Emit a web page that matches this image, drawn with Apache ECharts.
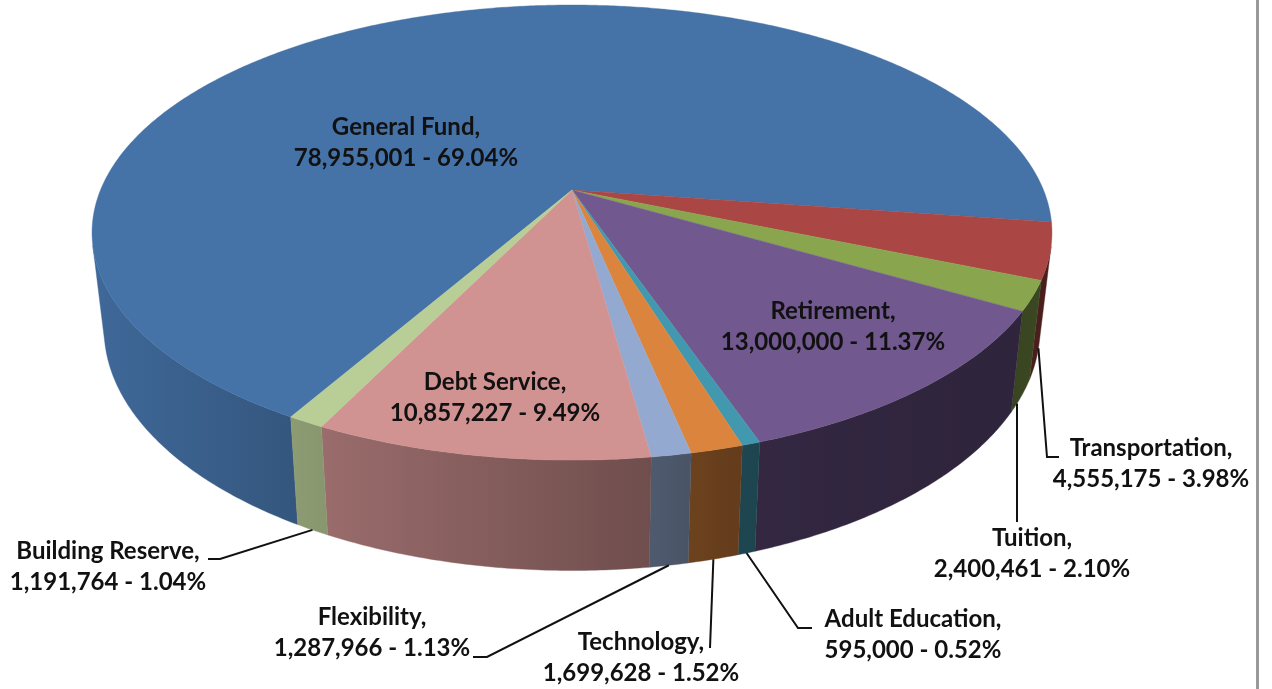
<!DOCTYPE html>
<html>
<head>
<meta charset="utf-8">
<style>
    html, body { margin: 0; padding: 0; background: #fff; }
    #main { width: 1272px; height: 689px; }
</style>
<script src="https://cdn.jsdelivr.net/npm/echarts@6/dist/echarts.min.js"></script>
</head>
<body>
<div id="main"></div>
<script>
const categories = ['General Fund', 'Transportation', 'Tuition', 'Retirement', 'Adult Education', 'Technology', 'Flexibility', 'Debt Service', 'Building Reserve']
const amounts = [78955001, 4555175, 2400461, 13000000, 595000, 1699628, 1287966, 10857227, 1191764]
const percents = ['69.04', '3.98', '2.10', '11.37', '0.52', '1.52', '1.13', '9.49', '1.04']

const colors = ['#4572A7', '#AA4643', '#89A54E', '#71588F', '#4198AF', '#DB843D', '#93A9CF', '#D19392', '#B9CD96']

// where the text sits and how the leader runs after it leaves the slice
const labelLayout = [
    { x: 406, y: 143 },
    { x: 1151, y: 464, leader: [[1047, 457], [1059, 457]] },
    { x: 1032, y: 554, leader: [[1017, 522]], leaderAt: 0.73 },
    { x: 833, y: 327 },
    { x: 913, y: 635, leader: [[798, 628], [812, 628]] },
    { x: 641, y: 658, leader: [[710, 648]] },
    { x: 372, y: 633, leader: [[487, 657], [473, 657]] },
    { x: 495, y: 398 },
    { x: 108, y: 567, leader: [[220, 559], [208, 559]] }
]

// the disc is a circle seen in perspective, so the apex is not the ellipse centre
const apexX = 572
const apexY = 190
const radiusX = 471.5
const radiusY = 219.6
const tilt = 0.187
const startAngle = 120

const total = amounts.reduce((a, b) => a + b, 0)
const sliceStart = []
let running = startAngle
amounts.forEach((v) => {
    sliceStart.push(running)
    running += v / total * 360
})
sliceStart.push(running)

function topPoint (deg) {
    const t = deg * Math.PI / 180
    const w = 1 - tilt * Math.sin(t)
    return [apexX + radiusX * Math.cos(t) / w, apexY + radiusY * Math.sin(t) / w]
}

// lower rim of the wall
function bottomPoint (deg) {
    const p = topPoint(deg)
    return [apexX + 0.975 * (p[0] - apexX), 81.4 + 1.063 * p[1]]
}

function arcAngles (from, to, step) {
    const list = []
    for (let a = from; a < to; a += step) {
        list.push(a)
    }
    list.push(to)
    return list
}

// wall gets darker going from left to right
const shadeLeft = 90
const shadeRight = 1060
const shadeStops = [[90, 0.92], [300, 0.75], [650, 0.53], [730, 0.46], [1000, 0.41], [1060, 0.44]]

function shaded (hex, f) {
    const n = parseInt(hex.slice(1), 16)
    const r = Math.round((n >> 16 & 255) * f)
    const g = Math.round((n >> 8 & 255) * f)
    const b = Math.round((n & 255) * f)
    return 'rgb(' + r + ',' + g + ',' + b + ')'
}

function wallFill (hex) {
    const stops = shadeStops.map((s) => ({
        offset: (s[0] - shadeLeft) / (shadeRight - shadeLeft),
        color: shaded(hex, s[1])
    }))
    return new echarts.graphic.LinearGradient(shadeLeft, 0, shadeRight, 0, stops, true)
}

function renderWall (params) {
    const i = params.dataIndex
    const angles = arcAngles(sliceStart[i], sliceStart[i + 1], 0.5)
    const upper = []
    const lower = []
    for (let k = 0; k < angles.length - 1; k++) {
        const a = topPoint(angles[k])
        const b = topPoint(angles[k + 1])
        const d = bottomPoint(angles[k])
        // skip the strips that face away from the viewer
        const area = (b[0] - a[0]) * (d[1] - a[1]) - (b[1] - a[1]) * (d[0] - a[0])
        if (area >= 0) continue
        if (!upper.length) {
            upper.push(a)
            lower.push(d)
        }
        upper.push(b)
        lower.push(bottomPoint(angles[k + 1]))
    }
    if (!upper.length) return null
    const fill = wallFill(colors[i])
    return {
        type: 'polygon',
        shape: { points: upper.concat(lower.reverse()) },
        style: { fill: fill, stroke: fill, lineWidth: 0.4 }
    }
}

function renderTop (params) {
    const i = params.dataIndex
    const points = [[apexX, apexY]]
    arcAngles(sliceStart[i], sliceStart[i + 1], 0.5).forEach((a) => points.push(topPoint(a)))
    return {
        type: 'polygon',
        shape: { points: points },
        style: { fill: colors[i], stroke: colors[i], lineWidth: 0.4 }
    }
}

function renderLabel (params, api) {
    const i = params.dataIndex
    const layout = labelLayout[i]
    const amount = api.value(0).toLocaleString('en-US')
    const children = []
    if (layout.leader) {
        const at = layout.leaderAt === undefined ? 0.5 : layout.leaderAt
        const from = bottomPoint(sliceStart[i] + (sliceStart[i + 1] - sliceStart[i]) * at)
        children.push({
            type: 'polyline',
            shape: { points: [from].concat(layout.leader) },
            style: { fill: null, stroke: '#111', lineWidth: 2 }
        })
    }
    children.push({
        type: 'text',
        style: {
            text: categories[i] + ',\n' + amount + ' - ' + percents[i] + '%',
            x: layout.x,
            y: layout.y,
            textAlign: 'center',
            textVerticalAlign: 'middle',
            lineHeight: 31,
            fill: '#111',
            font: 'bold 24px Lato, "Open Sans", sans-serif'
        }
    })
    return { type: 'group', children: children }
}

const option = {
    backgroundColor: '#fff',
    animation: false,
    graphic: [{
        type: 'rect',
        shape: { x: 1256, y: 0, width: 3, height: 689 },
        style: { fill: '#999' },
        silent: true
    }],
    series: [
        { type: 'custom', coordinateSystem: 'none', name: 'wall', data: amounts, renderItem: renderWall, z: 1, silent: true },
        { type: 'custom', coordinateSystem: 'none', name: 'top', data: amounts, renderItem: renderTop, z: 2, silent: true },
        { type: 'custom', coordinateSystem: 'none', name: 'label', data: amounts, renderItem: renderLabel, z: 3, silent: true }
    ]
}

const myChart = echarts.init(document.getElementById('main'))
myChart.setOption(option)
</script>
</body>
</html>
